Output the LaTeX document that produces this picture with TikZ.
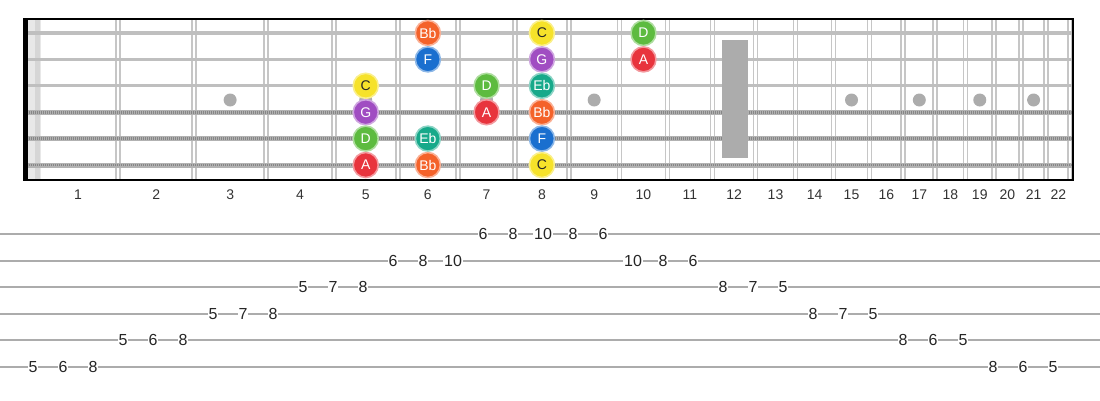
\documentclass[tikz,border=0pt]{standalone}
\usepackage{fontspec}
\setmainfont{Liberation Sans}
\definecolor{nBb}{HTML}{F4622A}
\definecolor{nF}{HTML}{1A6FCF}
\definecolor{nC}{HTML}{F6E22A}
\definecolor{nG}{HTML}{A04DC2}
\definecolor{nD}{HTML}{5DBB3F}
\definecolor{nEb}{HTML}{17A98A}
\definecolor{nA}{HTML}{E8343D}
\begin{document}
\begin{tikzpicture}[x=1pt,y=-1pt,
  fretline/.style={draw=gray!45,line width=1.7pt},
  plainstring/.style={draw=gray!50,line width=3.2pt},
  woundstring/.style={draw=gray!60,line width=5pt},
  woundwire/.style={draw=gray!95,line width=2.6pt,dash pattern=on 1pt off 1pt},
  inlay/.style={fill=gray!65},
  fretnum/.style={font=\fontsize{14}{14}\selectfont,text=black!80},
  notebase/.style={circle,minimum size=25pt,inner sep=0pt,line width=1.6pt,text=white,font=\fontsize{14}{14}\selectfont},
  n-Bb/.style={notebase,fill=nBb,draw=nBb!50!white},
  n-F/.style={notebase,fill=nF,draw=nF!50!white},
  n-C/.style={notebase,fill=nC,draw=nC!55!white,text=black!85},
  n-G/.style={notebase,fill=nG,draw=nG!50!white},
  n-D/.style={notebase,fill=nD,draw=nD!50!white},
  n-Eb/.style={notebase,fill=nEb,draw=nEb!50!white},
  n-A/.style={notebase,fill=nA,draw=nA!50!white},
  tabline/.style={draw=gray!65,line width=2pt},
  tabnum/.style={fill=white,inner sep=0.8pt,font=\fontsize{16}{16}\selectfont,text=black!85}]
\useasboundingbox (0,0) rectangle (1100,400);
\fill[gray!18] (28,19) rectangle (41,180);
\fill[gray!32] (35,19) rectangle (40,180);
\foreach \n in {1,...,22} {
  \pgfmathsetmacro\fx{38+1435*(1-pow(2,-\n/12))}
  \draw[fretline] (\fx-2,19) -- (\fx-2,180);
  \draw[fretline] (\fx+2,19) -- (\fx+2,180);
  \pgfmathsetmacro\mx{38+1435*(1-0.5*(pow(2,-(\n-1)/12)+pow(2,-\n/12)))}
  \node[fretnum] (f\n) at (\mx,195) {\n};
}
\foreach \s in {1,2,3}
  \draw[plainstring] (23,{33+26.4*(\s-1)}) -- (1073,{33+26.4*(\s-1)});
\foreach \s in {4,5,6} {
  \draw[woundstring] (23,{33+26.4*(\s-1)}) -- (1073,{33+26.4*(\s-1)});
  \draw[woundwire] (23,{33+26.4*(\s-1)}) -- (1073,{33+26.4*(\s-1)});
}
\foreach \n in {3,5,7,9,15,17,19,21} {
  \pgfmathsetmacro\mx{38+1435*(1-0.5*(pow(2,-(\n-1)/12)+pow(2,-\n/12)))}
  \fill[gray!65] (\mx,100) circle (6.5);
}
\fill[inlay] (722,40) rectangle (748,158);
\fill[black] (23,19) rectangle (28,181);
\draw[black,line width=1.5pt] (23,19) -- (1073,19);
\draw[black,line width=1.5pt] (23,180) -- (1073,180);
\draw[black,line width=1.5pt] (1073,18.25) -- (1073,180.75);
\foreach \s/\f/\nm [count=\k] in {1/6/Bb,1/8/C,1/10/D,2/6/F,2/8/G,2/10/A,3/5/C,3/7/D,3/8/Eb,4/5/G,4/7/A,4/8/Bb,5/5/D,5/6/Eb,5/8/F,6/5/A,6/6/Bb,6/8/C} {
  \pgfmathsetmacro\mx{38+1435*(1-0.5*(pow(2,-(\f-1)/12)+pow(2,-\f/12)))}
  \node[n-\nm] (note\k) at (\mx,{33+26.4*(\s-1)}) {\nm};
}
\foreach \s in {1,...,6}
  \draw[tabline] (0,{234+26.6*(\s-1)}) -- (1100,{234+26.6*(\s-1)});
\foreach \s/\f [count=\i from 0] in {6/5,6/6,6/8,5/5,5/6,5/8,4/5,4/7,4/8,3/5,3/7,3/8,2/6,2/8,2/10,1/6,1/8,1/10,1/8,1/6,2/10,2/8,2/6,3/8,3/7,3/5,4/8,4/7,4/5,5/8,5/6,5/5,6/8,6/6,6/5}
  \node[tabnum] (t\i) at ({33+30*\i},{234+26.6*(\s-1)}) {\f};
\end{tikzpicture}
\end{document}
